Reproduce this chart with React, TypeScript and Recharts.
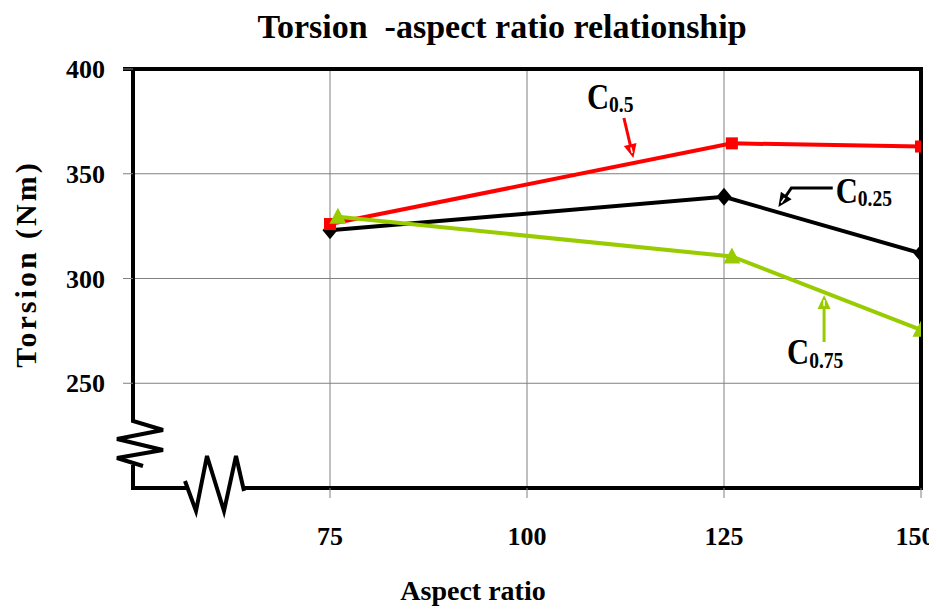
import React from 'react';
import { LineChart, Line, XAxis, YAxis, ReferenceLine, Customized } from 'recharts';

// ---- data ----
const xTicks = [75, 100, 125, 150];
const yTicks = [250, 300, 350, 400];
const gridXValues = [75, 100, 125];
const gridYValues = [250, 300, 350];

const seriesC025 = [
  { x: 75, y: 323 },
  { x: 125, y: 339 },
  { x: 150, y: 312 },
];
const seriesC05 = [
  { x: 75, y: 326 },
  { x: 126, y: 364.5 },
  { x: 150, y: 363 },
];
const seriesC075 = [
  { x: 76, y: 329.5 },
  { x: 126, y: 310.5 },
  { x: 150, y: 275.5 },
];

// annotation callouts (start of arrow near label, tip on the curve) in data units
const annStartC05 = { x: 112.3, y: 376.6 };
const annTipC05 = { x: 113.5, y: 357.5 };
const annStartC025 = { x: 138.8, y: 343.2 };
const annTipC025 = { x: 131.9, y: 334.1 };
const annStartC075 = { x: 137.7, y: 269.7 };
const annTipC075 = { x: 137.7, y: 292.1 };

const FONT = "'Liberation Serif', 'Times New Roman', Times, serif";
const GRID = '#808080';
const RED = '#FF0000';
const GREEN = '#99CC00';
const BLACK = '#000000';

const W = 929;
const H = 601;

const SquareDot = (p: any) => {
  const { cx, cy, index } = p;
  if (cx == null || cy == null) return <g key={`s${index}`} />;
  return <rect key={`s${index}`} x={cx - 6} y={cy - 6} width={12} height={12} fill={RED} />;
};
const DiamondDot = (p: any) => {
  const { cx, cy, index } = p;
  if (cx == null || cy == null) return <g key={`d${index}`} />;
  return (
    <polygon
      key={`d${index}`}
      points={`${cx},${cy - 9} ${cx + 7.5},${cy} ${cx},${cy + 9} ${cx - 7.5},${cy}`}
      fill={BLACK}
    />
  );
};
const TriangleDot = (p: any) => {
  const { cx, cy, index } = p;
  if (cx == null || cy == null) return <g key={`t${index}`} />;
  return (
    <polygon
      key={`t${index}`}
      points={`${cx},${cy - 9} ${cx + 8.5},${cy + 7} ${cx - 8.5},${cy + 7}`}
      fill={GREEN}
    />
  );
};

const YTick = (p: any) => {
  const { x, y, payload } = p;
  return (
    <text x={x - 18} y={y + 9} textAnchor="end" fontFamily={FONT} fontWeight={700} fontSize={26} fill="#000">
      {payload.value}
    </text>
  );
};
const XTick = (p: any) => {
  const { x, y, payload } = p;
  const shift = Math.min(0, W - 2 - (x + 20));
  return (
    <text
      x={x + shift}
      y={y + 47}
      textAnchor="middle"
      fontFamily={FONT}
      fontWeight={700}
      fontSize={26}
      fill="#000"
    >
      {payload.value}
    </text>
  );
};

const TopBorder = (p: any) => {
  const { x1, y1, x2 } = p;
  return <line x1={x1 - 10} y1={y1} x2={x2 + 2} y2={y1} stroke={BLACK} strokeWidth={4} />;
};
const RightBorder = (p: any) => {
  const { x1, y1, y2 } = p;
  const top = Math.min(y1, y2);
  const bot = Math.max(y1, y2);
  return <line x1={x1} y1={top - 2} x2={x1} y2={bot + 2} stroke={BLACK} strokeWidth={4} />;
};
const LeftAxisBroken = (p: any) => {
  const { x1, y1, y2 } = p;
  const X = x1;
  const top = Math.min(y1, y2);
  const Y = Math.max(y1, y2);
  const d =
    `M${X},${top - 2} L${X},${Y - 67} L${X + 30},${Y - 58} L${X - 16},${Y - 49} ` +
    `L${X + 30},${Y - 38} L${X - 16},${Y - 30} L${X + 10},${Y - 22} ` +
    `M${X},${Y - 23} L${X},${Y + 2}`;
  return <path d={d} fill="none" stroke={BLACK} strokeWidth={4} strokeLinejoin="miter" />;
};
const BottomAxisBroken = (p: any) => {
  const { x1, y1, x2 } = p;
  const X = Math.min(x1, x2);
  const R = Math.max(x1, x2);
  const Y = y1;
  const d =
    `M${X - 2},${Y} L${X + 53},${Y} ` +
    `M${X + 52},${Y - 7} L${X + 63},${Y + 23} L${X + 74},${Y - 32} L${X + 91},${Y + 23} ` +
    `L${X + 103},${Y - 32} L${X + 111},${Y + 3} ` +
    `M${X + 110},${Y} L${R + 2},${Y}`;
  return <path d={d} fill="none" stroke={BLACK} strokeWidth={4} strokeLinejoin="miter" />;
};

const arrowHead = (fromX: number, fromY: number, tipX: number, tipY: number, color: string) => {
  const ang = Math.atan2(tipY - fromY, tipX - fromX);
  const len = 14;
  const hw = 6.5;
  const bx = tipX - len * Math.cos(ang);
  const by = tipY - len * Math.sin(ang);
  const px = -Math.sin(ang) * hw;
  const py = Math.cos(ang) * hw;
  const ix1 = tipX - (len - 3) * Math.cos(ang);
  const iy1 = tipY - (len - 3) * Math.sin(ang);
  const ix2 = tipX - 5 * Math.cos(ang);
  const iy2 = tipY - 5 * Math.sin(ang);
  return (
    <g>
      <polygon points={`${tipX},${tipY} ${bx + px},${by + py} ${bx - px},${by - py}`} fill={color} />
      <line x1={ix1} y1={iy1} x2={ix2} y2={iy2} stroke="#ffffff" strokeWidth={1.5} />
    </g>
  );
};

const makeCallout = (
  color: string,
  sub: string,
  textDx: number,
  textDy: number,
  subDy: number,
  elbow: boolean
) => (p: any) => {
  const { x1, y1, x2, y2 } = p;
  const pts = elbow ? [[x1, y1], [x2 + 13, y1], [x2, y2]] : [[x1, y1], [x2, y2]];
  const prev = pts[pts.length - 2];
  const ang = Math.atan2(y2 - prev[1], x2 - prev[0]);
  const endX = x2 - 11 * Math.cos(ang);
  const endY = y2 - 11 * Math.sin(ang);
  const linePts = pts.slice(0, -1).map((q) => `${q[0]},${q[1]}`).join(' ') + ` ${endX},${endY}`;
  return (
    <g>
      <polyline points={linePts} fill="none" stroke={color} strokeWidth={3} />
      {arrowHead(prev[0], prev[1], x2, y2, color)}
      <g transform={`translate(${x1 + textDx},${y1 + textDy}) scale(0.85,1)`}>
        <text x={0} y={0} fontFamily={FONT} fontWeight={700} fontSize={36} fill="#000">
          C
          <tspan fontSize={23} dy={subDy}>
            {sub}
          </tspan>
        </text>
      </g>
    </g>
  );
};

const CalloutC05 = makeCallout(RED, '0.5', -37, -9, 3, false);
const CalloutC025 = makeCallout(BLACK, '0.25', 3, 15, 3, true);
const CalloutC075 = makeCallout(GREEN, '0.75', -37, 22, 4, false);

const Texts = () => (
  <g>
    <text
      x={494}
      y={30}
      textAnchor="middle"
      fontFamily={FONT}
      fontWeight={700}
      fontSize={34}
      fill="#000"
      xmlSpace="preserve"
      style={{ whiteSpace: 'pre' }}
    >
      {'Torsion  -aspect ratio relationship'}
    </text>
    <text
      x={28}
      y={256}
      transform="rotate(-90, 28, 256)"
      textAnchor="middle"
      fontFamily={FONT}
      fontWeight={700}
      fontSize={30}
      letterSpacing={3}
      fill="#000"
    >
      Torsion (Nm)
    </text>
    <text x={465} y={592} textAnchor="middle" fontFamily={FONT} fontWeight={700} fontSize={28} fill="#000">
      Aspect ratio
    </text>
  </g>
);

export default function App() {
  return (
    <div style={{ width: W, height: H }}>
      <LineChart width={W} height={H} margin={{ top: 61, right: 16, bottom: 0, left: 0 }}>
        <XAxis
          type="number"
          dataKey="x"
          domain={[50, 150]}
          ticks={xTicks}
          axisLine={false}
          tickLine={{ stroke: GRID, strokeWidth: 1 }}
          tickSize={10}
          tickMargin={0}
          height={121}
          tick={<XTick />}
          allowDataOverflow
        />
        <YAxis
          type="number"
          dataKey="y"
          domain={[200, 400]}
          ticks={yTicks}
          axisLine={false}
          tickLine={{ stroke: GRID, strokeWidth: 1 }}
          tickSize={10}
          tickMargin={0}
          width={125}
          tick={<YTick />}
          allowDataOverflow
        />
        {gridYValues.map((v) => (
          <ReferenceLine key={`gy${v}`} y={v} stroke={GRID} strokeWidth={1} ifOverflow="visible" />
        ))}
        {gridXValues.map((v) => (
          <ReferenceLine key={`gx${v}`} x={v} stroke={GRID} strokeWidth={1} ifOverflow="visible" />
        ))}
        <ReferenceLine y={400} ifOverflow="visible" shape={TopBorder} />
        <ReferenceLine x={150} ifOverflow="visible" shape={RightBorder} />
        <ReferenceLine
          segment={[{ x: 50, y: 400 }, { x: 50, y: 200 }]}
          ifOverflow="visible"
          shape={LeftAxisBroken}
        />
        <ReferenceLine
          segment={[{ x: 50, y: 200 }, { x: 150, y: 200 }]}
          ifOverflow="visible"
          shape={BottomAxisBroken}
        />
        <Line
          data={seriesC025}
          dataKey="y"
          stroke={BLACK}
          strokeWidth={4}
          dot={DiamondDot}
          activeDot={false}
          isAnimationActive={false}
        />
        <Line
          data={seriesC05}
          dataKey="y"
          stroke={RED}
          strokeWidth={4}
          dot={SquareDot}
          activeDot={false}
          isAnimationActive={false}
        />
        <Line
          data={seriesC075}
          dataKey="y"
          stroke={GREEN}
          strokeWidth={4}
          dot={TriangleDot}
          activeDot={false}
          isAnimationActive={false}
        />
        <ReferenceLine segment={[annStartC05, annTipC05]} ifOverflow="visible" shape={CalloutC05} />
        <ReferenceLine segment={[annStartC025, annTipC025]} ifOverflow="visible" shape={CalloutC025} />
        <ReferenceLine segment={[annStartC075, annTipC075]} ifOverflow="visible" shape={CalloutC075} />
        <Customized component={<Texts />} />
      </LineChart>
    </div>
  );
}
